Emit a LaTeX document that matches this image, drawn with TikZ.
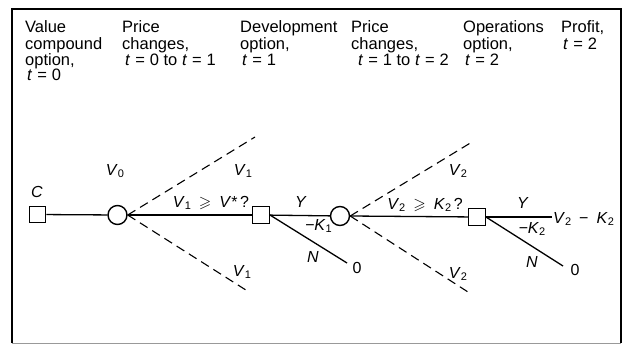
\documentclass[tikz,border=0pt]{standalone}
\usepackage{amssymb}
\usepackage{fontspec}
\setmainfont{Liberation Sans}
\newcommand\mysub[1]{\raisebox{-0.35ex}{\fontsize{11}{11}\selectfont#1}}
\newcommand\eqs{\hspace{0.3em}=\hspace{0.3em}}
\begin{document}
\begin{tikzpicture}[x=1pt,y=-1pt,
  dec/.style={draw, line width=1.4pt, minimum size=16.5pt, inner sep=0pt, fill=white},
  chance/.style={draw, circle, line width=1.4pt, minimum size=19pt, inner sep=0pt, fill=white},
  hdr/.style={anchor=base west, inner sep=0pt, font=\fontsize{16.5}{16.5}\selectfont},
  lbl/.style={anchor=base, inner sep=0pt, font=\fontsize{16}{16}\selectfont},
  branch/.style={line width=1.3pt},
  guess/.style={line width=1.1pt, dash pattern=on 9pt off 5.5pt}]
\useasboundingbox (0,0) rectangle (626,345);
% frame
\draw[line width=1.2pt] (12,343) -- (12,9) -- (621,9) -- (621,343);
\draw[line width=0.8pt, black!40] (12,343) -- (621,343);
% header
\node[hdr] (h1a) at (25,32.5) {Value};
\node[hdr] (h1b) at (25,49) {compound};
\node[hdr] (h1c) at (25,65.5) {option,};
\node[hdr] (h1d) at (27,81) {\textit{t}\eqs0};
\node[hdr] (h2a) at (122,32.5) {Price};
\node[hdr] (h2b) at (122,49) {changes,};
\node[hdr] (h2c) at (125,65.5) {\textit{t}\eqs0 to \textit{t}\eqs1};
\node[hdr] (h3a) at (240,32.5) {Development};
\node[hdr] (h3b) at (240,49) {option,};
\node[hdr] (h3c) at (242,65.5) {\textit{t}\eqs1};
\node[hdr] (h4a) at (351,32.5) {Price};
\node[hdr] (h4b) at (351,49) {changes,};
\node[hdr] (h4c) at (358,65.5) {\textit{t}\eqs1 to \textit{t}\eqs2};
\node[hdr] (h5a) at (463,32.5) {Operations};
\node[hdr] (h5b) at (463,49) {option,};
\node[hdr] (h5c) at (465,65.5) {\textit{t}\eqs2};
\node[hdr] (h6a) at (561,32.5) {Profit,};
\node[hdr] (h6b) at (563,49) {\textit{t}\eqs2};
% nodes
\node[dec] (sqC) at (37.5,214.5) {};
\node[chance] (c0) at (117.5,215) {};
\node[dec] (sqD) at (261,215) {};
\node[chance] (c1) at (340,216) {};
\node[dec] (sqO) at (477,217) {};
\coordinate (u0) at (255,137);
\coordinate (d0) at (249,292);
\coordinate (u1) at (472,142);
\coordinate (d1) at (468,292);
\coordinate (n1) at (347,263);
\coordinate (n2) at (563,266);
\coordinate (y2) at (552,217);
% connectors
\draw[branch] (sqC) -- (c0);
\draw[branch] (c0.east) -- (sqD);
\draw[guess] (c0.east) -- (u0);
\draw[guess] (c0.east) -- (d0);
\draw[branch] (sqD) -- (c1);
\draw[branch] (sqD.east) -- (n1);
\draw[branch] (c1.east) -- (sqO);
\draw[guess] (c1.east) -- (u1);
\draw[guess] (c1.east) -- (d1);
\draw[branch] (sqO.east) -- (y2);
\draw[branch] (sqO.east) -- (n2);
% labels
\node[lbl] (lC) at (37,197) {\textit{C}};
\node[lbl] (lV0) at (115,175) {\textit{V}\mysub{0}};
\node[lbl] (lV1u) at (243,175) {\textit{V}\mysub{1}};
\node[lbl] (lV1d) at (242,276) {\textit{V}\mysub{1}};
\node[lbl] (lq1) at (211,207) {\textit{V}\mysub{1}\enspace$\geqslant$\enspace\textit{V}*\,?};
\node[lbl] (lY1) at (301,207) {\textit{Y}};
\node[lbl] (lK1) at (319,230) {\textit{\kern-1pt\char"2212K}\mysub{1}};
\node[lbl] (lN1) at (313,262) {\textit{N}};
\node[lbl] (l01) at (357,273) {0};
\node[lbl] (lV2u) at (458,175) {\textit{V}\mysub{2}};
\node[lbl] (lV2d) at (458,278) {\textit{V}\mysub{2}};
\node[lbl] (lq2) at (425,209) {\textit{V}\mysub{2}\enspace$\geqslant$\enspace\textit{K}\mysub{2}\,?};
\node[lbl] (lY2) at (523,208) {\textit{Y}};
\node[lbl] (lK2) at (532,233) {\textit{\char"2212K}\mysub{2}};
\node[lbl] (lN2) at (532,267) {\textit{N}};
\node[lbl] (l02) at (575,275) {0};
\node[lbl, anchor=base west] (lpay) at (553,223) {\textit{V}\mysub{2}\enspace\char"2212\enspace\textit{K}\mysub{2}};
\end{tikzpicture}
\end{document}
